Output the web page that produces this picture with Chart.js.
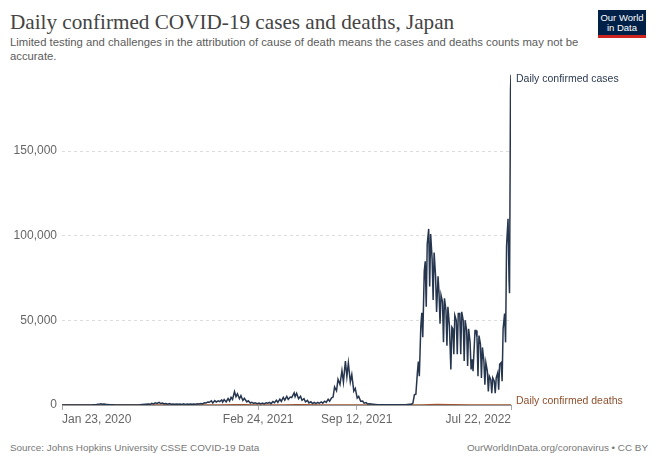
<!DOCTYPE html>
<html>
<head>
<meta charset="utf-8">
<script src="https://cdn.jsdelivr.net/npm/chart.js"></script>
<style>
body{margin:0;background:#fff;width:658px;height:464px;overflow:hidden;position:relative;font-family:"Liberation Sans",Arial,sans-serif}
#title{position:absolute;left:10px;top:10px;font-family:"Liberation Serif",serif;font-size:21.2px;line-height:24px;color:#444;white-space:nowrap}
#subtitle{position:absolute;left:10px;top:35px;width:585px;font-size:11.3px;line-height:14px;color:#5b5b5b}
#logo{position:absolute;left:598px;top:10px;width:48px;background:#002147;border-bottom:3px solid #ce261e;color:#fff;font-size:9.5px;line-height:10px;text-align:center;padding-top:3px;height:22px}
#chartBox{position:absolute;left:0;top:60px;width:658px;height:376px}
#source{position:absolute;left:10px;top:442px;font-size:9.9px;line-height:12px;color:#777}
#url{position:absolute;right:10px;top:442px;font-size:9.9px;line-height:12px;color:#777}
</style>
</head>
<body>
<div id="title">Daily confirmed COVID-19 cases and deaths, Japan</div>
<div id="subtitle">Limited testing and challenges in the attribution of cause of death means the cases and deaths counts may not be accurate.</div>
<div id="logo">Our World<br>in Data</div>
<div id="chartBox"><canvas id="myChart"></canvas></div>
<div id="source">Source: Johns Hopkins University CSSE COVID-19 Data</div>
<div id="url">OurWorldInData.org/coronavirus • CC BY</div>
<script>
// days counted from Jan 23, 2020
const tickDays = [0, 398, 598, 911];
const tickLabels = ['Jan 23, 2020', 'Feb 24, 2021', 'Sep 12, 2021', 'Jul 22, 2022'];
const yTicks = [0, 50000, 100000, 150000];

// daily confirmed cases
const caseDays = [
  0, 14, 30, 45, 55, 62, 66, 70, 73, 76, 79, 82, 85, 89, 93, 97, 101, 106, 112, 120,
  130, 140, 150, 158, 163, 169, 176, 179, 182, 186, 189, 193, 197, 200, 204, 207, 211, 214, 218, 221,
  225, 229, 233, 236, 240, 243, 247, 250, 254, 257, 261, 264, 268, 271, 275, 278, 282, 285, 289, 292,
  296, 299, 303, 306, 310, 313, 317, 320, 324, 326, 329, 333, 337, 340, 343, 346, 350, 353, 356, 360,
  363, 367, 370, 375, 378, 382, 385, 389, 392, 396, 400, 403, 407, 410, 414, 417, 421, 424, 428, 431,
  435, 438, 442, 445, 449, 452, 456, 459, 463, 466, 471, 473, 476, 480, 484, 487, 491, 494, 498, 501,
  505, 508, 512, 515, 519, 522, 526, 529, 533, 536, 540, 543, 547, 550, 553, 557, 560, 564, 568, 571,
  575, 578, 581, 585, 588, 592, 595, 599, 602, 606, 610, 613, 617, 620, 624, 631, 641, 657, 678, 697,
  705, 709, 712, 715, 718, 721, 723, 725, 728, 730, 732, 735, 737, 739, 741, 744, 746, 748, 751, 753,
  755, 758, 760, 763, 765, 767, 769, 772, 774, 776, 779, 781, 783, 786, 789, 791, 793, 795, 797, 800,
  802, 804, 807, 809, 811, 814, 816, 818, 821, 823, 825, 828, 830, 832, 834, 838, 840, 842, 844, 846,
  849, 851, 853, 856, 858, 860, 863, 865, 867, 870, 872, 874, 877, 879, 881, 884, 886, 888, 891, 893,
  895, 898, 900, 902, 905, 907, 908, 910, 911
];
const caseValues = [
  0, 1, 15, 40, 60, 100, 200, 230, 400, 520, 720, 450, 580, 380, 330, 200, 180, 90, 60, 30,
  40, 50, 60, 100, 250, 430, 590, 420, 980, 600, 1300, 950, 1600, 900, 1200, 680, 900, 500, 800, 440,
  600, 400, 600, 400, 580, 300, 650, 370, 570, 430, 630, 400, 620, 500, 750, 550, 850, 650, 1300, 1200,
  1700, 1600, 2500, 1200, 2600, 1800, 2500, 2000, 3000, 1700, 3200, 1800, 3800, 2300, 4500, 3300, 7900, 4900, 6600, 3700,
  5500, 2700, 3900, 1800, 2500, 1200, 1600, 900, 1300, 800, 1200, 700, 1200, 700, 1300, 1000, 1500, 800, 2000, 1300,
  2800, 1600, 3500, 2100, 4500, 2900, 5100, 3300, 4700, 4400, 7200, 4900, 6900, 3700, 5200, 2800, 3700, 1800, 2700, 1200,
  1900, 900, 1500, 800, 1600, 1000, 1800, 1100, 2200, 1500, 3400, 2300, 4200, 4700, 10700, 8400, 15200, 12100, 20300, 13500,
  25900, 16800, 24900, 13600, 18000, 8200, 9800, 4100, 5100, 2200, 2300, 1100, 1400, 600, 700, 500, 200, 180, 120, 200,
  400, 500, 1100, 6000, 6400, 18800, 25700, 17000, 46200, 54500, 40000, 78900, 84900, 58000, 94900, 104000, 70000, 101000, 86000, 62000,
  90000, 76000, 55000, 76000, 66000, 48000, 65000, 61000, 37000, 63000, 56000, 35000, 58000, 47000, 21000, 46000, 45000, 30000, 53000, 50000,
  30000, 54000, 54000, 30000, 55000, 50000, 26000, 50000, 44000, 23000, 45000, 37000, 21000, 27000, 20000, 44000, 44000, 40000, 17000, 41000,
  36000, 16000, 34000, 26000, 12000, 25000, 20000, 8000, 17000, 15000, 7000, 16000, 14000, 7000, 16000, 19000, 9000, 24000, 25000, 14000,
  45000, 54000, 37000, 94000, 110000, 74000, 66000, 186000, 195000
];

// daily confirmed deaths
const deathDays = [0, 60, 90, 110, 140, 200, 230, 280, 320, 350, 370, 390, 420, 450, 475, 490, 520, 560, 590, 620, 660, 700, 730, 760, 790, 830, 870, 895, 911];
const deathValues = [0, 2, 20, 15, 2, 10, 10, 8, 40, 80, 100, 70, 30, 40, 100, 90, 20, 10, 50, 20, 2, 2, 50, 230, 100, 50, 20, 15, 40];

const toPoints = (xs, ys) => xs.map((d, i) => ({x: d, y: ys[i]}));

const endLabels = {
  id: 'endLabels',
  afterDatasetsDraw(chart) {
    const ctx = chart.ctx;
    const area = chart.chartArea;
    chart.data.datasets.forEach((ds, i) => {
      const pts = chart.getDatasetMeta(i).data;
      const last = pts[pts.length - 1];
      ctx.save();
      ctx.font = '10.5px "Liberation Sans", Arial, sans-serif';
      ctx.fillStyle = ds.labelColor;
      ctx.textBaseline = 'middle';
      ctx.fillText(ds.label, area.right + 5, Math.min(last.y, area.bottom) + ds.labelShift);
      ctx.restore();
    });
  }
};

const tickFont = {family: '"Liberation Sans", Arial, sans-serif', size: 12};

const config = {
  type: 'line',
  data: {
    datasets: [{
      label: 'Daily confirmed cases',
      data: toPoints(caseDays, caseValues),
      borderColor: '#27364f',
      labelColor: '#2b3a50',
      labelShift: 4,
      borderWidth: 1.5,
      pointRadius: 0,
      tension: 0
    }, {
      label: 'Daily confirmed deaths',
      data: toPoints(deathDays, deathValues),
      borderColor: '#a0522d',
      labelColor: '#8f4f2c',
      labelShift: -4,
      borderWidth: 1.5,
      pointRadius: 0,
      tension: 0,
      order: 1
    }]
  },
  options: {
    responsive: true,
    maintainAspectRatio: false,
    animation: false,
    layout: {padding: {top: 14, right: 147, left: 0, bottom: 0}},
    plugins: {legend: {display: false}, tooltip: {enabled: false}},
    scales: {
      x: {
        type: 'linear',
        min: 0,
        max: 911,
        afterBuildTicks: s => { s.ticks = tickDays.map(v => ({value: v})); },
        afterFit: s => { s.height = 31; },
        ticks: {
          autoSkip: false,
          maxRotation: 0,
          align: 'inner',
          color: '#666',
          font: tickFont,
          padding: 2,
          callback: v => tickLabels[tickDays.indexOf(v)] || ''
        },
        grid: {drawOnChartArea: false, tickLength: 5, color: '#aaa'},
        border: {display: true, color: '#999'}
      },
      y: {
        min: 0,
        max: 195500,
        afterBuildTicks: s => { s.ticks = yTicks.map(v => ({value: v})); },
        afterFit: s => { s.width = 62; },
        ticks: {
          color: '#666',
          font: tickFont,
          padding: 5,
          callback: v => v.toLocaleString('en-US')
        },
        grid: {color: '#dcdcdc', drawTicks: false},
        border: {display: false, dash: [3, 3]}
      }
    }
  },
  plugins: [endLabels]
};

const myChart = new Chart(document.getElementById('myChart'), config);
</script>
</body>
</html>
